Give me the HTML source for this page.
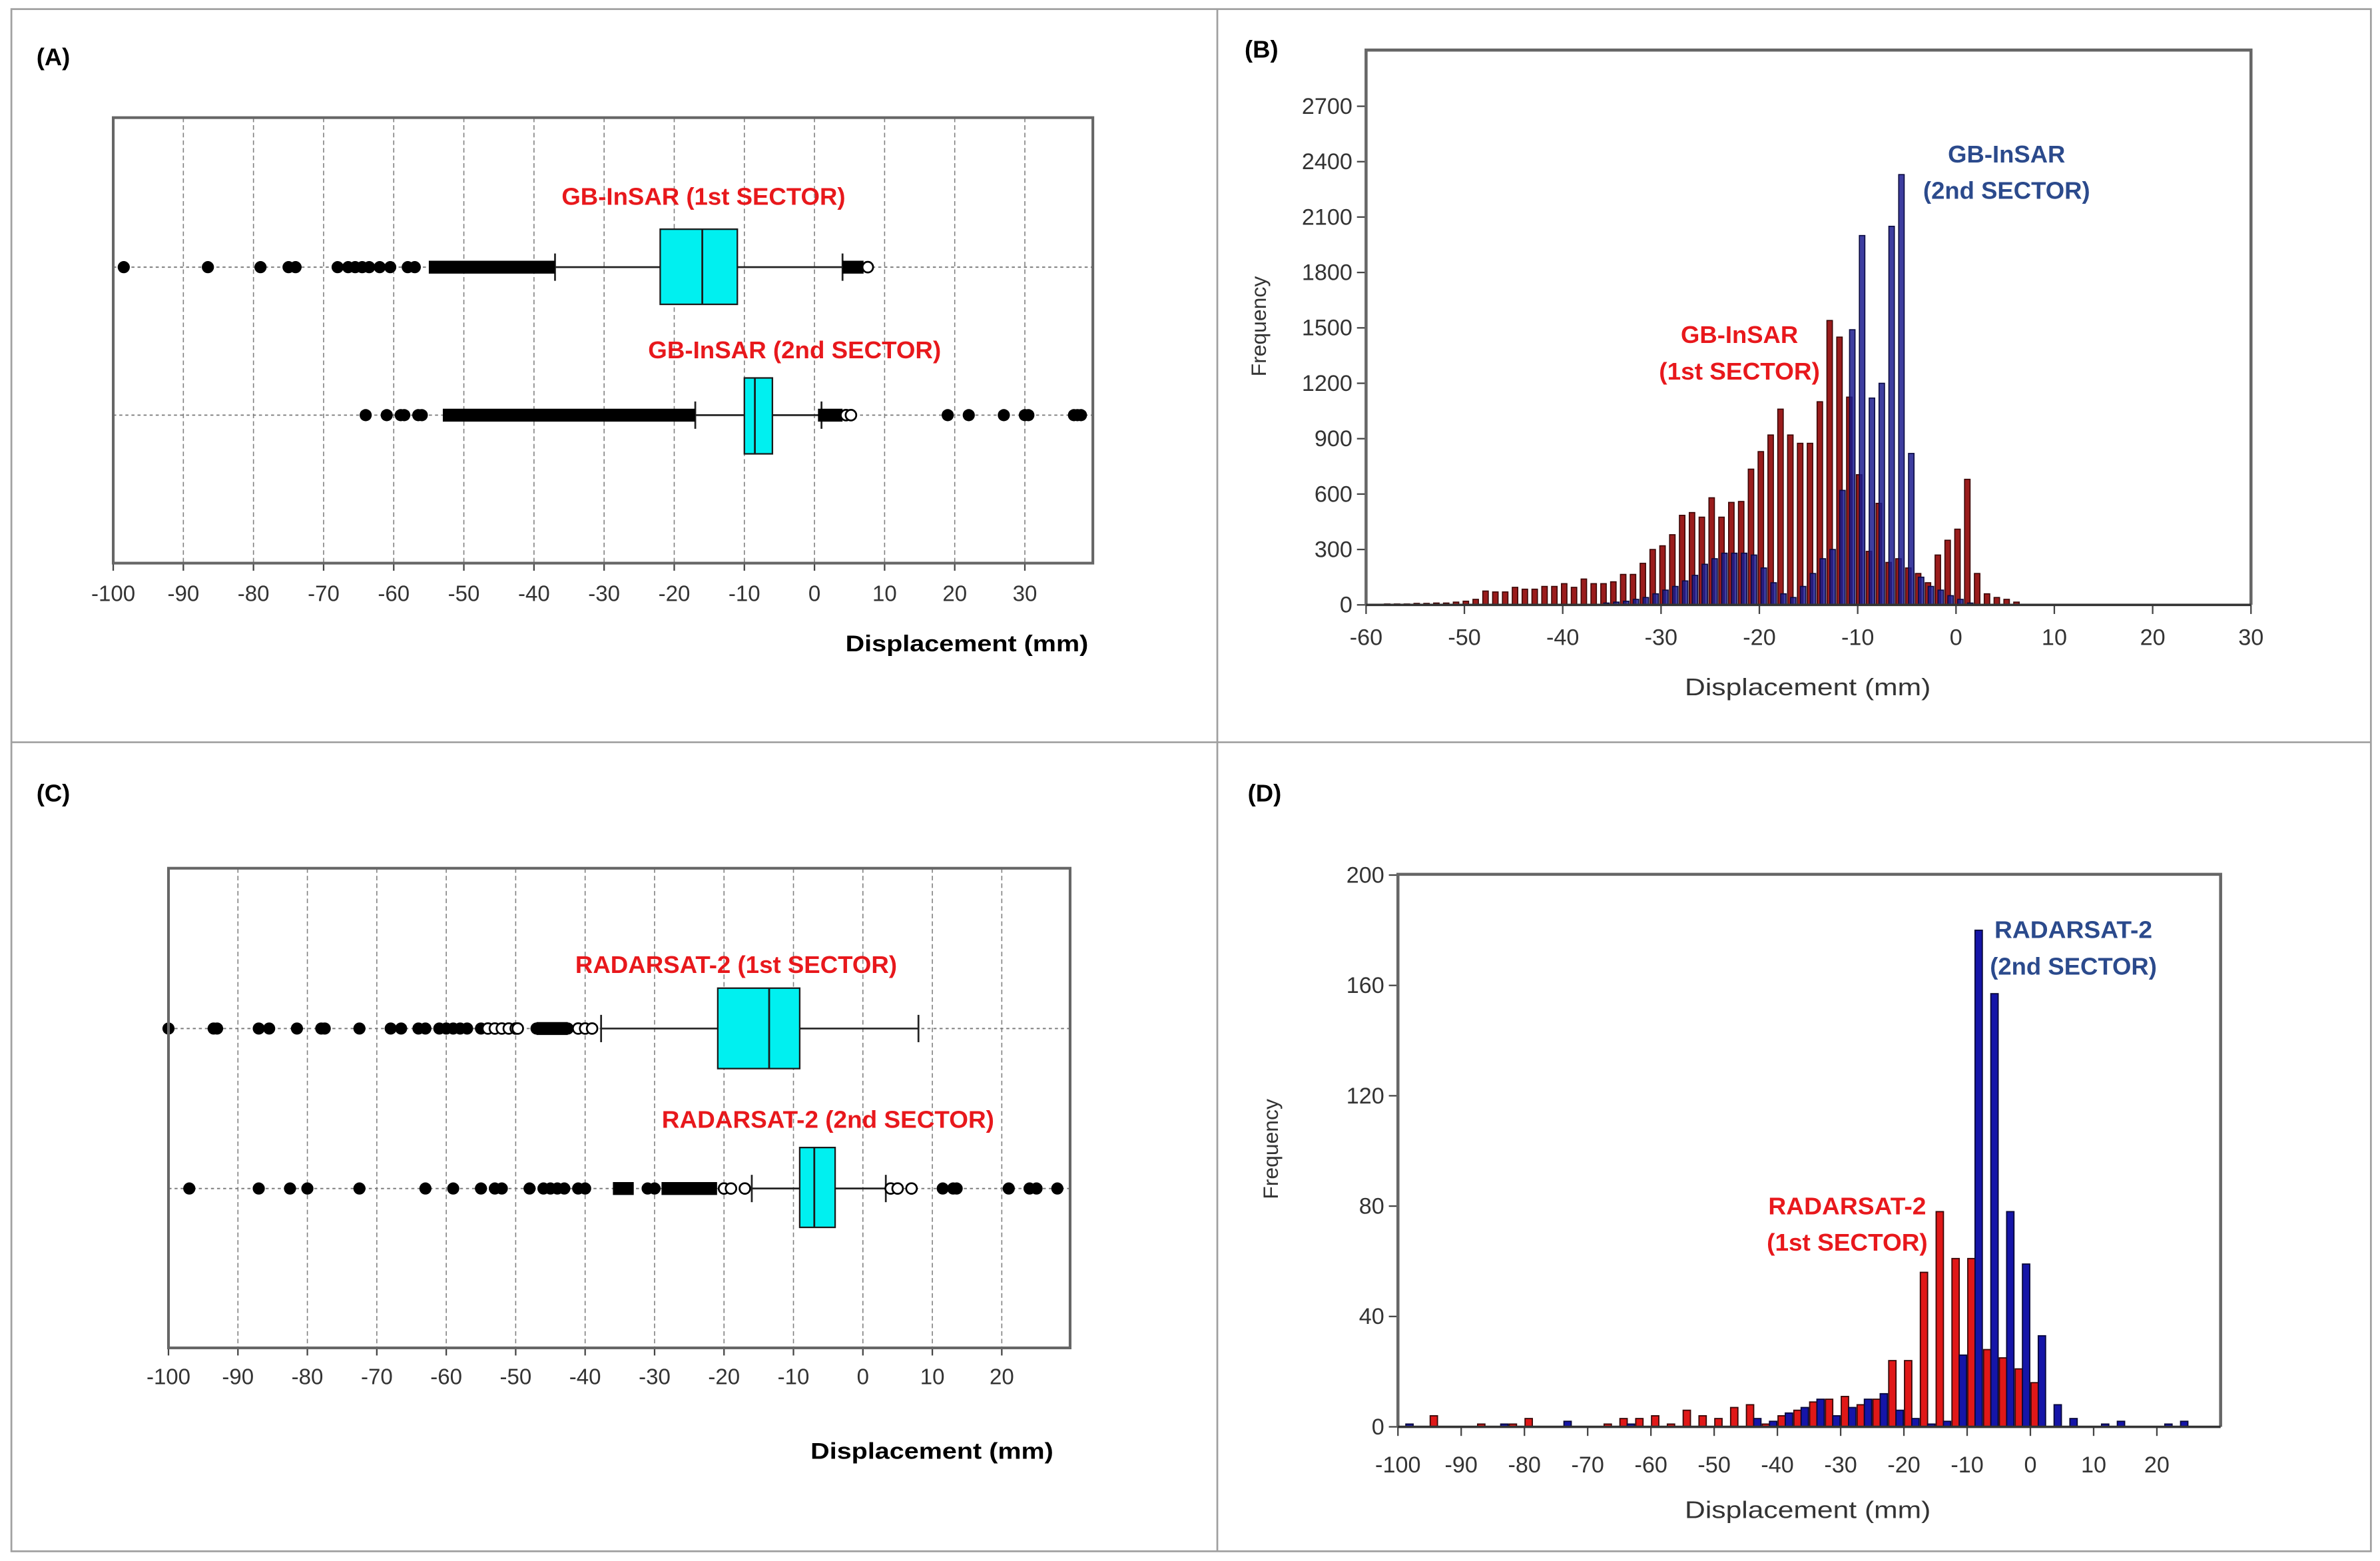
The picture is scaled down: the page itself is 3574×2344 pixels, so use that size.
<!DOCTYPE html>
<html><head><meta charset="utf-8"><style>
html,body{margin:0;padding:0;background:#fff;}
svg{display:block;}
text{font-family:"Liberation Sans",sans-serif;}
</style></head><body>
<svg id="fig" xmlns="http://www.w3.org/2000/svg" width="3574" height="2344" viewBox="0 0 1568 1028.4" preserveAspectRatio="none">
<rect x="0" y="0" width="1568" height="1028.4" fill="#fff"/>
<g stroke="#a0a0a0" stroke-width="1.2" fill="none">
<rect x="7.5" y="6" width="1554.5" height="1016"/>
<line x1="802" y1="6" x2="802" y2="1022"/>
<line x1="7.5" y1="489" x2="1562" y2="489"/>
</g>
<text x="24" y="43" font-size="16" font-weight="bold">(A)</text>
<text x="820" y="38" font-size="16" font-weight="bold">(B)</text>
<text x="24" y="528" font-size="16" font-weight="bold">(C)</text>
<text x="822" y="528" font-size="16" font-weight="bold">(D)</text>
<g id="pa"></g>
<g id="pc"></g>
<g id="pb"></g>
<g id="pd"></g>
</svg>
<script>
// ---------- DATA ----------
// Panel A (GB-InSAR box plots)
const aTicks = [-100,-90,-80,-70,-60,-50,-40,-30,-20,-10,0,10,20,30];
const aBox1 = [-37, -22, -16, -11, 4];   // whiskerLo, q1, median, q3, whiskerHi
const aBox2 = [-17, -10, -8.5, -6, 1];
const aOut1 = [-98.5,-86.5,-79,-75,-74,-68,-66.5,-65.5,-64.5,-63.5,-62,-60.5,-58,-57];
const aDense1 = [[-55,-37],[4,7]];
const aHollow1 = [7.6];
const aOut2 = [-64,-61,-59,-58.5,-56.5,-56,19,22,27,30,30.5,37,37.5,38];
const aDense2 = [[-53,-17],[0.5,4]];
const aHollow2 = [4.5,5.2];
// Panel C (RADARSAT-2 box plots)
const cTicks = [-100,-90,-80,-70,-60,-50,-40,-30,-20,-10,0,10,20];
const cBox1 = [-37.7, -20.9, -13.5, -9.1, 8];
const cBox2 = [-16, -9.1, -7, -4, 3.3];
const cOut1 = [-100,-93.5,-93,-87,-85.5,-81.5,-78,-77.5,-72.5,-68,-66.5,-64,-63,-61,-60,-59,-58,-57,-55,-47,-46,-45.5,-44,-43,-42.5];
const cDense1 = [[-47,-42.5]];
const cHollow1 = [-54,-53,-52,-51,-50,-49.7,-41,-40,-39];
const cOut2 = [-97,-87,-82.5,-80,-72.5,-63,-59,-55,-53,-52,-48,-46,-45,-44,-43,-41,-40,-31,-30,11.5,13,13.5,21,24,25,28];
const cDense2 = [[-36,-33],[-29,-21]];
const cHollow2 = [-20,-19,-17,4,5,7];
// Panel B (GB-InSAR histogram, 1 mm bins)
const bXTicks = [-60,-50,-40,-30,-20,-10,0,10,20,30];
const bYTicks = [0,300,600,900,1200,1500,1800,2100,2400,2700];
const bRedStart = -58;
const bRed = [5,5,5,8,8,10,10,15,20,30,75,70,70,95,85,85,100,100,115,95,140,115,115,125,165,165,225,300,320,380,485,500,475,580,475,555,560,735,830,920,1060,920,875,875,1100,1540,1450,1125,705,290,550,230,250,200,170,120,270,350,410,680,170,60,40,30,15];
const bBlueStart = -35;
const bBlue = [10,15,20,30,40,60,80,100,130,160,220,250,280,280,280,270,200,120,60,40,100,170,250,300,620,1490,2000,1120,1200,2050,2330,820,150,100,80,50,30,10];
// Panel D (RADARSAT-2 histogram, 2.5 mm bins starting at -100)
const dXTicks = [-100,-90,-80,-70,-60,-50,-40,-30,-20,-10,0,10,20];
const dYTicks = [0,40,80,120,160,200];
const dBinStart = -100;
const dBinWidth = 2.5;
const dRed = [0,0,4,0,0,1,0,1,3,0,0,0,0,1,3,3,4,1,6,4,3,7,8,1,4,6,9,10,11,8,10,24,24,56,78,61,61,28,25,21,16,0,0,0,0,0,0,0,0,0];
const dBlue = [1,0,0,0,0,0,1,0,0,0,2,0,0,0,1,0,0,0,0,0,0,0,3,2,5,7,10,4,7,10,12,6,3,1,2,26,180,157,78,59,33,8,3,0,1,2,0,0,1,2];

// ---------- helpers ----------
const NS = "http://www.w3.org/2000/svg";
function el(parent, tag, attrs, txt) {
  const e = document.createElementNS(NS, tag);
  for (const k in attrs) e.setAttribute(k, attrs[k]);
  if (txt !== undefined) e.textContent = txt;
  parent.appendChild(e);
  return e;
}

// ---------- Box plot panels ----------
function boxPanel(g, o) {
  const sx = v => o.x0 + (v - o.vmin) * o.ppu;
  const right = o.x1;
  o.ticks.forEach(t => {
    const x = sx(t);
    if (t !== o.vmin) {
      const gl = el(g, 'line', {x1:x, y1:o.top, x2:x, y2:o.bot, stroke:'#808080', 'stroke-width':0.7, 'stroke-dasharray':'3,2'});
      
      
    }
    const tk = el(g, 'line', {x1:x, y1:o.bot, x2:x, y2:o.bot+5, stroke:'#444', 'stroke-width':1});
    
    
    const tl = el(g, 'text', {x:x, y:o.tickY, 'font-size':14.5, 'text-anchor':'middle', fill:'#333'}, String(t));
    
    
  });
  o.rows.forEach((r, i) => {
    const hl = el(g, 'line', {x1:o.x0, y1:r.y, x2:right, y2:r.y, stroke:'#777', 'stroke-width':0.8, 'stroke-dasharray':'2,2'});
    
    
    const b = r.box;
    const w = el(g, 'line', {x1:sx(b[0]), y1:r.y, x2:sx(b[4]), y2:r.y, stroke:'#222', 'stroke-width':1.2});
    
    
    [b[0], b[4]].forEach(v => {
      const c = el(g, 'line', {x1:sx(v), y1:r.y-9, x2:sx(v), y2:r.y+9, stroke:'#222', 'stroke-width':1.2});
      
      
    });
    r.dense.forEach(d => {
      const dl = el(g, 'line', {x1:sx(d[0]), y1:r.y, x2:sx(d[1]), y2:r.y, stroke:'#000', 'stroke-width':8.5});
      
      
    });
    r.out.forEach(v => {
      const c = el(g, 'circle', {cx:sx(v), cy:r.y, r:4, fill:'#000'});
      
      
    });
    r.hollow.forEach(v => {
      const c = el(g, 'circle', {cx:sx(v), cy:r.y, r:3.5, fill:'#fff', stroke:'#000', 'stroke-width':1.2});
      
      
    });
    const bx = el(g, 'rect', {x:sx(b[1]), y:r.by0, width:sx(b[3])-sx(b[1]), height:r.by1-r.by0, fill:'#00f0f0', stroke:'#1a1a1a', 'stroke-width':1});
    
    
    const md = el(g, 'line', {x1:sx(b[2]), y1:r.by0, x2:sx(b[2]), y2:r.by1, stroke:'#1a1a1a', 'stroke-width':1.2});
    
    
    const lb = el(g, 'text', {x:r.lx, y:r.ly, 'font-size':16, 'font-weight':'bold', fill:'#e8181c', textLength:r.lw, lengthAdjust:'spacingAndGlyphs'}, r.label);
    
    
  });
  const fr = el(g, 'rect', {x:o.x0, y:o.top, width:right-o.x0, height:o.bot-o.top, fill:'none', stroke:'#666', 'stroke-width':1.8});
  
  
  const at = el(g, 'text', {x:o.titleX, y:o.titleY, 'font-size':15, 'font-weight':'bold', 'text-anchor':'end', textLength:160, lengthAdjust:'spacingAndGlyphs'}, 'Displacement (mm)');
  
  
}

boxPanel(document.getElementById('pa'), {
  x0:74.6, x1:720, vmin:-100, ppu:4.62, top:77.5, bot:371, tickY:396, ticks:aTicks,
  titleX:717, titleY:429,
  rows:[
    {y:176, by0:151, by1:200.5, box:aBox1, out:aOut1, dense:aDense1, hollow:aHollow1, label:'GB-InSAR (1st SECTOR)', lx:370, ly:135, lw:187},
    {y:273.5, by0:249, by1:299, box:aBox2, out:aOut2, dense:aDense2, hollow:aHollow2, label:'GB-InSAR (2nd SECTOR)', lx:427, ly:236, lw:193}
  ]
});
boxPanel(document.getElementById('pc'), {
  x0:111, x1:705, vmin:-100, ppu:4.575, top:572, bot:888, tickY:912, ticks:cTicks,
  titleX:694, titleY:961,
  rows:[
    {y:677.6, by0:651, by1:704, box:cBox1, out:cOut1, dense:cDense1, hollow:cHollow1, label:'RADARSAT-2 (1st SECTOR)', lx:379, ly:641, lw:212},
    {y:783, by0:756, by1:808.6, box:cBox2, out:cOut2, dense:cDense2, hollow:cHollow2, label:'RADARSAT-2 (2nd SECTOR)', lx:436, ly:743, lw:219}
  ]
});

// ---------- Histogram panels ----------
function histAxes(g, o) {
  o.yTicks.forEach(t => {
    const y = o.sy(t);
    const tk = el(g, 'line', {x1:o.x0-6, y1:y, x2:o.x0, y2:y, stroke:'#444', 'stroke-width':1});
    
    
    const tl = el(g, 'text', {x:o.x0-9, y:y+5, 'font-size':15, 'text-anchor':'end', fill:'#333'}, String(t));
    
    
  });
  o.xTicks.forEach(t => {
    const x = o.sx(t);
    const tk = el(g, 'line', {x1:x, y1:o.y0, x2:x, y2:o.y0+6, stroke:'#444', 'stroke-width':1});
    
    
    const tl = el(g, 'text', {x:x, y:o.tickY, 'font-size':15, 'text-anchor':'middle', fill:'#333'}, String(t));
    
    
  });
  const fr = el(g, 'path', {d:`M${o.x0},${o.y0} V${o.top} H${o.x1} V${o.y0}`, fill:'none', stroke:'#666', 'stroke-width':2});
  
  
  const ax = el(g, 'line', {x1:o.x0, y1:o.y0, x2:o.x1, y2:o.y0, stroke:'#333', 'stroke-width':1.6});
  
  
  const xt = el(g, 'text', {x:o.titleX, y:o.titleY, 'font-size':16, 'text-anchor':'middle', fill:'#333', textLength:162, lengthAdjust:'spacingAndGlyphs'}, 'Displacement (mm)');
  
  
  const yt = el(g, 'text', {x:0, y:0, 'font-size':14, 'text-anchor':'middle', fill:'#333', transform:`translate(${o.yTitleX},${o.yTitleY}) rotate(-90)`}, 'Frequency');
  
  
}

// Panel B
(function(){
  const g = document.getElementById('pb');
  const x0 = 900, x1 = 1483, top = 33, y0 = 398.5;
  const sx = v => x0 + (v + 60) * (x1 - x0) / 90;
  const sy = v => y0 - v * (y0 - 70) / 2700;
  const bw = 3.6;
  bRed.forEach((v, i) => {
    const c = bRedStart + i + 0.15;
    const r = el(g, 'rect', {x:sx(c)-bw/2, y:sy(v), width:bw, height:y0-sy(v), fill:'#9a1c1c', stroke:'#3b0606', 'stroke-width':0.7});
    
    
  });
  bBlue.forEach((v, i) => {
    const c = bBlueStart + i - 0.55;
    const r = el(g, 'rect', {x:sx(c)-bw/2, y:sy(v), width:bw, height:y0-sy(v), fill:'#1c1c8f', 'fill-opacity':0.85, stroke:'#0a0a40', 'stroke-width':0.7});
    
    
  });
  histAxes(g, {x0, x1, top, y0, sx, sy, xTicks:bXTicks, yTicks:bYTicks, tickY:425, titleX:1191, titleY:458, yTitleX:834, yTitleY:215});
  const l1 = el(g, 'text', {x:1322, y:107, 'font-size':16, 'font-weight':'bold', 'text-anchor':'middle', fill:'#2b4a8c'}, 'GB-InSAR');
  
  
  const l2 = el(g, 'text', {x:1322, y:131, 'font-size':16, 'font-weight':'bold', 'text-anchor':'middle', fill:'#2b4a8c', textLength:110, lengthAdjust:'spacingAndGlyphs'}, '(2nd SECTOR)');
  
  
  const l3 = el(g, 'text', {x:1146, y:226, 'font-size':16, 'font-weight':'bold', 'text-anchor':'middle', fill:'#e8181c'}, 'GB-InSAR');
  
  
  const l4 = el(g, 'text', {x:1146, y:250, 'font-size':16, 'font-weight':'bold', 'text-anchor':'middle', fill:'#e8181c', textLength:106, lengthAdjust:'spacingAndGlyphs'}, '(1st SECTOR)');
  
  
})();

// Panel D
(function(){
  const g = document.getElementById('pd');
  const x0 = 921, x1 = 1463, top = 576, y0 = 940;
  const sx = v => x0 + (v + 100) * (500 / 120);
  const sy = v => y0 - v * (y0 - 576.5) / 200;
  const half = dBinWidth / 2;
  dRed.forEach((v, i) => {
    if (!v) return;
    const s = dBinStart + i * dBinWidth;
    const r = el(g, 'rect', {x:sx(s+0.1), y:sy(v), width:sx(s+half)-sx(s+0.1), height:y0-sy(v), fill:'#e01818', stroke:'#3a0808', 'stroke-width':0.8});
    
    
  });
  dBlue.forEach((v, i) => {
    if (!v) return;
    const s = dBinStart + i * dBinWidth;
    const r = el(g, 'rect', {x:sx(s+half), y:sy(v), width:sx(s+dBinWidth-0.1)-sx(s+half), height:y0-sy(v), fill:'#1515a8', stroke:'#08083a', 'stroke-width':0.8});
    
    
  });
  histAxes(g, {x0, x1, top, y0, sx, sy, xTicks:dXTicks, yTicks:dYTicks, tickY:970, titleX:1191, titleY:1000, yTitleX:842, yTitleY:757});
  const l1 = el(g, 'text', {x:1366, y:618, 'font-size':16, 'font-weight':'bold', 'text-anchor':'middle', fill:'#2b4a8c', textLength:104, lengthAdjust:'spacingAndGlyphs'}, 'RADARSAT-2');
  
  
  const l2 = el(g, 'text', {x:1366, y:642, 'font-size':16, 'font-weight':'bold', 'text-anchor':'middle', fill:'#2b4a8c', textLength:110, lengthAdjust:'spacingAndGlyphs'}, '(2nd SECTOR)');
  
  
  const l3 = el(g, 'text', {x:1217, y:800, 'font-size':16, 'font-weight':'bold', 'text-anchor':'middle', fill:'#e8181c', textLength:104, lengthAdjust:'spacingAndGlyphs'}, 'RADARSAT-2');
  
  
  const l4 = el(g, 'text', {x:1217, y:824, 'font-size':16, 'font-weight':'bold', 'text-anchor':'middle', fill:'#e8181c', textLength:106, lengthAdjust:'spacingAndGlyphs'}, '(1st SECTOR)');
  
  
})();
</script>
</body></html>
